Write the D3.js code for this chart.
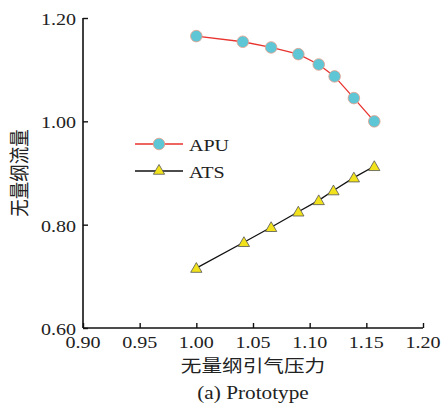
<!DOCTYPE html>
<html>
<head>
<meta charset="utf-8">
<script src="https://cdn.jsdelivr.net/npm/d3@7"></script>
<style>
  body { margin: 0; background: #fff; }
  svg { display: block; }
  .num { font-family: "Liberation Serif", "Times New Roman", serif; font-size: 17px; fill: #222; }
  .cjk { font-family: "Noto Sans CJK SC", sans-serif; font-size: 17px; fill: #222; }
</style>
</head>
<body>
<div id="chart"></div>
<script>
// pressure ratio (x) and flow ratio (y)
var apuX = [1.000, 1.041, 1.066, 1.090, 1.108, 1.122, 1.139, 1.157],
	apuY = [1.165, 1.154, 1.143, 1.130, 1.110, 1.087, 1.045, 1.000],
	atsX = [1.000, 1.042, 1.066, 1.090, 1.108, 1.121, 1.139, 1.157],
	atsY = [0.716, 0.766, 0.795, 0.825, 0.847, 0.866, 0.891, 0.913],
	xTicks = [0.90, 0.95, 1.00, 1.05, 1.10, 1.15, 1.20],
	yTicks = [0.60, 0.80, 1.00, 1.20],
	seriesNames = ["APU", "ATS"],
	xTitle = "无量纲引气压力",
	yTitle = "无量纲流量",
	caption = "(a) Prototype";

var W = 443, H = 413,
	margin = { top: 18, right: 20, bottom: 85, left: 83 },
	sx = 1.18; // source image is stretched horizontally

var svg = d3.select("#chart").append("svg")
	.attr("width", W)
	.attr("height", H);

var x = d3.scaleLinear().domain([0.90, 1.20]).range([margin.left, W - margin.right]);
var y = d3.scaleLinear().domain([0.60, 1.20]).range([H - margin.bottom, margin.top]);

function label(g, txt, px, py, cls, anchor, rot) {
	var t = g.append("g")
		.attr("transform", "translate(" + px + "," + py + ")" + (rot ? " rotate(" + rot + ")" : "") + (rot ? " scale(1," + sx + ")" : " scale(" + sx + ",1)"))
		.append("text")
		.attr("class", cls)
		.style("text-anchor", anchor)
		.text(txt);
	return t;
}

// axes
var xAxis = svg.append("g")
	.attr("transform", "translate(0," + y(0.60) + ")")
	.call(d3.axisBottom(x).tickValues(xTicks).tickSize(-5).tickFormat(""));
var yAxis = svg.append("g")
	.attr("transform", "translate(" + x(0.90) + ",0)")
	.call(d3.axisLeft(y).tickValues(yTicks).tickSize(-5).tickFormat(""));
[xAxis, yAxis].forEach(function(a) {
	a.select(".domain").attr("stroke", "#111").attr("stroke-width", 1.6);
	a.selectAll(".tick line").attr("stroke", "#111").attr("stroke-width", 1.4);
});
xAxis.select(".domain").attr("d", "M" + x(0.90) + ",0H" + x(1.20));
yAxis.select(".domain").attr("d", "M0," + y(0.60) + "V" + y(1.20));

xTicks.forEach(function(d) {
	label(svg, d.toFixed(2), x(d), y(0.60) + 20, "num", "middle");
});
yTicks.forEach(function(d) {
	label(svg, d.toFixed(2), x(0.90) - 7, y(d) + 7, "num", "end");
});

// titles
label(svg, xTitle, (x(0.90) + x(1.20)) / 2, y(0.60) + 44, "cjk", "middle").style("font-size", "17.5px");
label(svg, yTitle, 27, (y(0.60) + y(1.20)) / 2, "cjk", "middle", -90).style("font-size", "17.5px");
label(svg, caption, (x(0.90) + x(1.20)) / 2, y(0.60) + 71, "num", "middle").style("font-size", "18px");

// series
var line = d3.line()
	.x(function(d) { return x(d[0]); })
	.y(function(d) { return y(d[1]); });

var apu = apuX.map(function(d, i) { return [d, apuY[i]]; });
var ats = atsX.map(function(d, i) { return [d, atsY[i]]; });

svg.append("path").datum(apu)
	.attr("d", line).attr("fill", "none")
	.attr("stroke", "#e8332e").attr("stroke-width", 1.3);
svg.append("path").datum(ats)
	.attr("d", line).attr("fill", "none")
	.attr("stroke", "#111").attr("stroke-width", 1.3);

var tri = d3.symbol().type(d3.symbolTriangle).size(55);

svg.selectAll("circle.apu").data(apu).enter().append("circle")
	.attr("class", "apu")
	.attr("cx", function(d) { return x(d[0]); })
	.attr("cy", function(d) { return y(d[1]); })
	.attr("r", 5.8)
	.attr("fill", "#5ec6d5")
	.attr("stroke", "#e7a08c")
	.attr("stroke-width", 0.8);

svg.selectAll("path.ats").data(ats).enter().append("path")
	.attr("class", "ats")
	.attr("d", tri)
	.attr("transform", function(d) { return "translate(" + x(d[0]) + "," + (y(d[1]) + 1) + ")"; })
	.attr("fill", "#f2e21c")
	.attr("stroke", "#555")
	.attr("stroke-width", 0.8);

// legend
var legend = svg.append("g").attr("transform", "translate(135,144)");
seriesNames.forEach(function(name, i) {
	var g = legend.append("g").attr("transform", "translate(0," + i * 27 + ")");
	g.append("line").attr("x1", 0).attr("x2", 48).attr("y1", 0).attr("y2", 0)
		.attr("stroke", i === 0 ? "#e8332e" : "#111").attr("stroke-width", 1.3);
	if (i === 0) {
		g.append("circle").attr("cx", 24).attr("cy", 0).attr("r", 5.8)
			.attr("fill", "#5ec6d5").attr("stroke", "#e7a08c").attr("stroke-width", 0.8);
	} else {
		g.append("path").attr("d", tri).attr("transform", "translate(24,0)")
			.attr("fill", "#f2e21c").attr("stroke", "#555").attr("stroke-width", 0.8);
	}
	label(g, name, 54, 6.5, "num", "start");
});
</script>
</body>
</html>
